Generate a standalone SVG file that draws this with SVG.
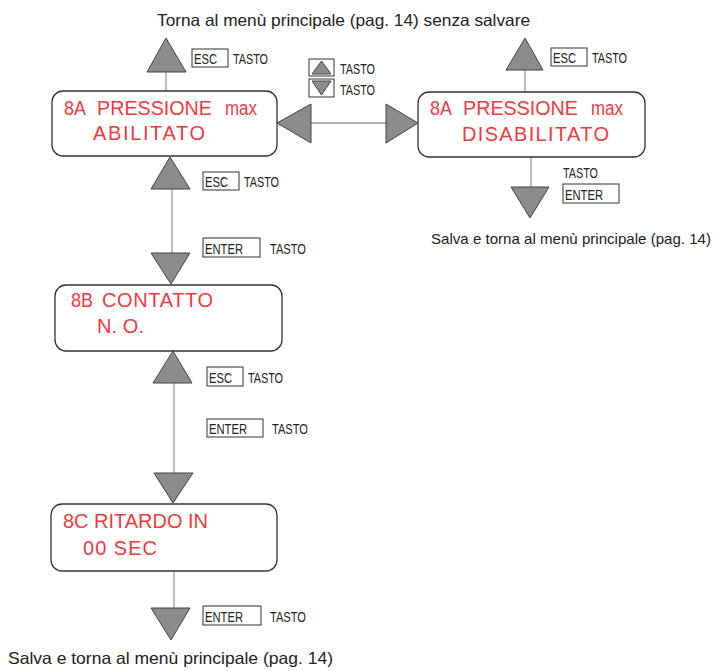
<svg xmlns="http://www.w3.org/2000/svg" width="720" height="671" viewBox="0 0 720 671">
<style>
.box{fill:#fff;stroke:#333;stroke-width:1.3}
.tri{fill:#8b8c8e;stroke:#444;stroke-width:1}
.ln{stroke:#9a9a9a;stroke-width:1.3;fill:none}
.kb{fill:#fff;stroke:#333;stroke-width:1}
.lbl{font-family:'Liberation Sans',Arial,sans-serif;font-size:14.5px;fill:#222}
.cap{font-family:'Liberation Sans',Arial,sans-serif;font-size:16.5px;fill:#222}
.lcd{font-family:'Liberation Sans',Arial,sans-serif;font-size:20px;fill:#f03a3f}
</style>
<rect width="720" height="671" fill="#fff"/>
<g id="connectors">
<line class="ln" x1="166" y1="72" x2="166" y2="91"/>
<line class="ln" x1="172" y1="189" x2="172" y2="253"/>
<line class="ln" x1="174" y1="383" x2="174" y2="473"/>
<line class="ln" x1="174" y1="571" x2="174" y2="608"/>
<line class="ln" x1="311" y1="123" x2="386" y2="123"/>
<line class="ln" x1="525" y1="70" x2="525" y2="92"/>
<line class="ln" x1="531" y1="157" x2="531" y2="187"/>
<polygon class="tri" points="166,38 186,72 147,72"/>
<polygon class="tri" points="170,157 190,189 151,189"/>
<polygon class="tri" points="151,253 190,253 171,284"/>
<polygon class="tri" points="173,351 192,383 153,383"/>
<polygon class="tri" points="154,473 193,473 173,503"/>
<polygon class="tri" points="151,608 190,608 171,640"/>
<polygon class="tri" points="277,123 311,104 311,143"/>
<polygon class="tri" points="418,123 386,104 386,143"/>
<polygon class="tri" points="525,38 543,70 506,70"/>
<polygon class="tri" points="511,187 549,187 530,218"/>
</g>
<g id="node-8a-abilitato">
<rect class="box" x="52" y="91" width="225" height="65" rx="11"/>
<text class="lcd" y="115"><tspan x="64" textLength="22" lengthAdjust="spacingAndGlyphs">8A</tspan><tspan x="97" textLength="115" lengthAdjust="spacingAndGlyphs">PRESSIONE</tspan><tspan x="225" textLength="32" lengthAdjust="spacingAndGlyphs">max</tspan></text>
<text class="lcd" x="93" y="140" textLength="112" lengthAdjust="spacing">ABILITATO</text>
</g>
<g id="node-8a-disabilitato">
<rect class="box" x="418" y="92" width="227" height="65" rx="11"/>
<text class="lcd" y="115"><tspan x="430" textLength="22" lengthAdjust="spacingAndGlyphs">8A</tspan><tspan x="463" textLength="115" lengthAdjust="spacingAndGlyphs">PRESSIONE</tspan><tspan x="591" textLength="32" lengthAdjust="spacingAndGlyphs">max</tspan></text>
<text class="lcd" x="462" y="141" textLength="147" lengthAdjust="spacing">DISABILITATO</text>
</g>
<g id="node-8b">
<rect class="box" x="55" y="285" width="227" height="66" rx="11"/>
<text class="lcd" y="307"><tspan x="71" textLength="22" lengthAdjust="spacingAndGlyphs">8B</tspan><tspan x="102" textLength="111" lengthAdjust="spacing">CONTATTO</tspan></text>
<text class="lcd" x="97" y="333" textLength="47" lengthAdjust="spacing">N. O.</text>
</g>
<g id="node-8c">
<rect class="box" x="51" y="504" width="226" height="67" rx="11"/>
<text class="lcd" x="63" y="528" textLength="145" lengthAdjust="spacing">8C RITARDO IN</text>
<text class="lcd" x="83" y="555" textLength="74" lengthAdjust="spacing">00 SEC</text>
</g>
<g id="keys">
<rect class="kb" x="192" y="49" width="36" height="18"/>
<text class="lbl" x="194" y="64" textLength="23" lengthAdjust="spacingAndGlyphs">ESC</text>
<text class="lbl" x="233" y="64" textLength="35" lengthAdjust="spacingAndGlyphs">TASTO</text>
<rect class="kb" x="203" y="172" width="36" height="18"/>
<text class="lbl" x="205" y="187" textLength="23" lengthAdjust="spacingAndGlyphs">ESC</text>
<text class="lbl" x="244" y="187" textLength="35" lengthAdjust="spacingAndGlyphs">TASTO</text>
<rect class="kb" x="203" y="238" width="57" height="19"/>
<text class="lbl" x="205" y="254" textLength="38" lengthAdjust="spacingAndGlyphs">ENTER</text>
<text class="lbl" x="270" y="254" textLength="36" lengthAdjust="spacingAndGlyphs">TASTO</text>
<rect class="kb" x="207" y="367" width="36" height="19"/>
<text class="lbl" x="209" y="383" textLength="23" lengthAdjust="spacingAndGlyphs">ESC</text>
<text class="lbl" x="248" y="383" textLength="35" lengthAdjust="spacingAndGlyphs">TASTO</text>
<rect class="kb" x="207" y="419" width="56" height="18"/>
<text class="lbl" x="209" y="434" textLength="38" lengthAdjust="spacingAndGlyphs">ENTER</text>
<text class="lbl" x="272" y="434" textLength="36" lengthAdjust="spacingAndGlyphs">TASTO</text>
<rect class="kb" x="203" y="606" width="58" height="19"/>
<text class="lbl" x="205" y="622" textLength="38" lengthAdjust="spacingAndGlyphs">ENTER</text>
<text class="lbl" x="270" y="622" textLength="36" lengthAdjust="spacingAndGlyphs">TASTO</text>
<rect class="kb" x="309" y="59" width="25" height="17"/>
<polygon class="tri" points="321.5,61 331,74 312,74"/>
<rect class="kb" x="309" y="79" width="25" height="18"/>
<polygon class="tri" points="312,81 331,81 321.5,95"/>
<text class="lbl" x="340" y="74" textLength="35" lengthAdjust="spacingAndGlyphs">TASTO</text>
<text class="lbl" x="340" y="95" textLength="35" lengthAdjust="spacingAndGlyphs">TASTO</text>
<rect class="kb" x="551" y="48" width="36" height="18"/>
<text class="lbl" x="553" y="63" textLength="23" lengthAdjust="spacingAndGlyphs">ESC</text>
<text class="lbl" x="592" y="63" textLength="35" lengthAdjust="spacingAndGlyphs">TASTO</text>
<text class="lbl" x="563" y="178" textLength="35" lengthAdjust="spacingAndGlyphs">TASTO</text>
<rect class="kb" x="563" y="184" width="56" height="19"/>
<text class="lbl" x="565" y="200" textLength="38" lengthAdjust="spacingAndGlyphs">ENTER</text>
</g>
<g id="captions">
<text class="cap" x="157" y="26" textLength="373" lengthAdjust="spacingAndGlyphs">Torna al menù principale (pag. 14) senza salvare</text>
<text class="cap" x="431" y="244" style="font-size:15px" textLength="280" lengthAdjust="spacingAndGlyphs">Salva e torna al menù principale (pag. 14)</text>
<text class="cap" x="8" y="664" textLength="325" lengthAdjust="spacingAndGlyphs">Salva e torna al menù principale (pag. 14)</text>
</g>
</svg>
